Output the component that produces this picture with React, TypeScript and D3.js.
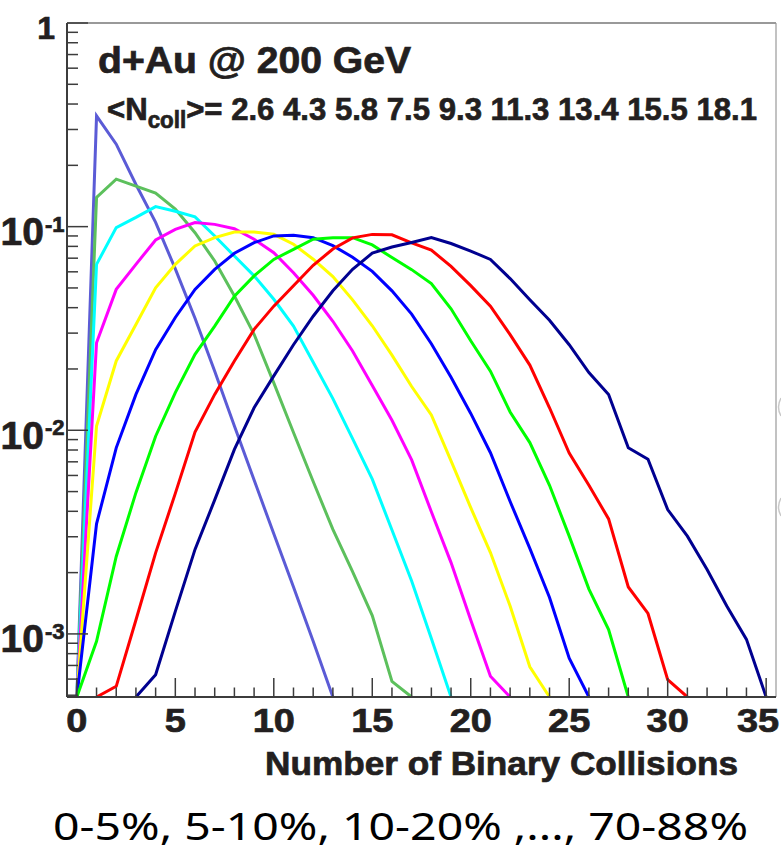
import React from 'react';
import * as d3 from 'd3';

const WIDTH = 781;
const HEIGHT = 851;

// Mean number of binary collisions per centrality class (peripheral -> central)
const ncollMeans = ['2.6', '4.3', '5.8', '7.5', '9.3', '11.3', '13.4', '15.5', '18.1'];

// Probability per number of binary collisions, index = Ncoll (0,1,2,...)
const ncoll26 = [0, 0.35, 0.254, 0.161, 0.105, 0.062, 0.0355, 0.0195, 0.0105, 0.0057, 0.0031, 0.0017, 0.00092, 0];
const ncoll43 = [0, 0.139, 0.171, 0.158, 0.146, 0.122, 0.0934, 0.0678, 0.0456, 0.0296, 0.0171, 0.00975, 0.0056, 0.00326, 0.00202, 0.00123, 0.000585, 0];
const ncoll58 = [0, 0.0653, 0.0989, 0.111, 0.1254, 0.119, 0.1116, 0.09, 0.0717, 0.0573, 0.044, 0.0325, 0.0216, 0.0143, 0.0091, 0.00575, 0.00324, 0.00182, 0.00095, 0];
const ncoll75 = [0, 0.0269, 0.0492, 0.0653, 0.086, 0.097, 0.1047, 0.1026, 0.0977, 0.0867, 0.0745, 0.0594, 0.046, 0.0343, 0.0245, 0.0166, 0.0112, 0.00715, 0.00398, 0.00224, 0.00117, 0.00062, 0];
const ncoll93 = [0, 0.0105, 0.0219, 0.0331, 0.0501, 0.0653, 0.0804, 0.0883, 0.094, 0.094, 0.0917, 0.082, 0.0692, 0.0569, 0.0437, 0.0326, 0.0234, 0.0164, 0.0119, 0.00708, 0.00417, 0.00251, 0.00137, 0.00069, 0];
const ncoll113 = [0, 0.00347, 0.0082, 0.015, 0.0249, 0.0358, 0.0492, 0.0617, 0.074, 0.0834, 0.09, 0.0906, 0.0883, 0.0807, 0.0708, 0.0603, 0.0484, 0.0372, 0.0266, 0.0182, 0.0121, 0.00776, 0.00447, 0.00263, 0.00151, 0.00076, 0];
const ncoll134 = [0, 0.00092, 0.0024, 0.00494, 0.00935, 0.0153, 0.0236, 0.0325, 0.0456, 0.0573, 0.069, 0.0774, 0.0867, 0.0883, 0.0883, 0.0813, 0.0705, 0.0615, 0.0525, 0.0395, 0.0275, 0.0195, 0.0123, 0.0087, 0.00537, 0.00302, 0.00166, 0.00105, 0];
const ncoll155 = [0, 0, 0.000553, 0.00117, 0.0025, 0.0049, 0.0098, 0.015, 0.0219, 0.0313, 0.0407, 0.0513, 0.0646, 0.0776, 0.0881, 0.0916, 0.0912, 0.0832, 0.0767, 0.0638, 0.0513, 0.0407, 0.0295, 0.0209, 0.0129, 0.00773, 0.00537, 0.00367, 0.0017, 0.00126, 0.000596, 0];
const ncoll181 = [0, 0, 0, 0, 0.00063, 0.00129, 0.0026, 0.00455, 0.00805, 0.0129, 0.0185, 0.0263, 0.0363, 0.0484, 0.0617, 0.0741, 0.0794, 0.0836, 0.0883, 0.0826, 0.0759, 0.069, 0.0556, 0.0437, 0.0347, 0.0263, 0.0192, 0.015, 0.0082, 0.0072, 0.00408, 0.00302, 0.00207, 0.00137, 0.00094, 0];

const seriesList = [ncoll26, ncoll43, ncoll58, ncoll75, ncoll93, ncoll113, ncoll134, ncoll155, ncoll181];
const seriesColors = ['#5b5bd6', '#5cc05c', '#00ffff', '#ff00ff', '#ffff00', '#0000ff', '#00ff00', '#ff0000', '#000090'];

const xMajorTicks = [0, 5, 10, 15, 20, 25, 30, 35];
const yMajorExponents = [-3, -2, -1];

const titleText = 'd+Au @ 200 GeV';
const xAxisTitle = 'Number of Binary Collisions';
const centralityText = '0-5%, 5-10%, 10-20% ,..., 70-88%';

const X_DOMAIN: [number, number] = [-0.5, 35.5];
const Y_DOMAIN: [number, number] = [4.9e-4, 1];

const plot = { left: 67, right: 776, top: 23, bottom: 697 };
const textColor = '#231f20';
const axisColor = '#3c3c3c';
const boldFont = '"Liberation Sans", Arial, Helvetica, sans-serif';
const heavy = { stroke: textColor, strokeWidth: 0.7, paintOrder: 'stroke' as const };

export default function App() {
  const x = d3.scaleLinear().domain(X_DOMAIN).range([plot.left, plot.right]);
  const y = d3.scaleLog().domain(Y_DOMAIN).range([plot.bottom, plot.top]);

  const xMinor = d3.range(Math.ceil(X_DOMAIN[0]), Math.floor(X_DOMAIN[1]) + 1).filter((v) => v % 5 !== 0);
  const yMinor: number[] = [];
  [1e-4, 1e-3, 1e-2, 1e-1].forEach((d) => {
    for (let k = 2; k <= 9; k++) {
      const v = d * k;
      if (v >= Y_DOMAIN[0] && v <= Y_DOMAIN[1]) yMinor.push(v);
    }
  });

  const line = d3
    .line<[number, number]>()
    .x((d) => x(d[0]))
    .y((d) => y(Math.max(d[1], Y_DOMAIN[0])));

  const paths = seriesList.map((vals) => {
    const first = vals.findIndex((v) => v > 0);
    let last = vals.length - 1;
    while (last > 0 && !(vals[last] > 0)) last--;
    const start = Math.max(0, first - 1);
    const end = Math.min(vals.length - 1, last + 1);
    const pts: [number, number][] = [];
    for (let i = start; i <= end; i++) pts.push([i, vals[i]]);
    return line(pts) || '';
  });

  return (
    <svg
      width={WIDTH}
      height={HEIGHT}
      viewBox={`0 0 ${WIDTH} ${HEIGHT}`}
      style={{ position: 'absolute', left: 0, top: 0, display: 'block', background: '#fff' }}
    >
      <defs>
        <clipPath id="plotClip">
          <rect x={plot.left} y={plot.top - 2} width={plot.right - plot.left} height={plot.bottom - plot.top + 2} />
        </clipPath>
      </defs>
      <rect x={0} y={0} width={WIDTH} height={HEIGHT} fill="#fff" />

      {/* curves */}
      <g clipPath="url(#plotClip)">
        {paths.map((d, i) => (
          <path key={i} d={d} fill="none" stroke={seriesColors[i]} strokeWidth={3} strokeLinejoin="miter" />
        ))}
      </g>

      {/* frame */}
      <line x1={plot.left} x2={plot.right} y1={plot.top} y2={plot.top} stroke="#777" strokeWidth={1.5} />
      <line x1={plot.right} x2={plot.right} y1={plot.top} y2={plot.bottom} stroke="#999" strokeWidth={1.2} />
      <line x1={plot.left} x2={plot.left} y1={plot.top} y2={plot.bottom} stroke={axisColor} strokeWidth={2} />
      <line x1={plot.left} x2={plot.right} y1={plot.bottom} y2={plot.bottom} stroke={axisColor} strokeWidth={2} />

      {/* faint grey marks outside the right edge */}
      <path d="M781,398 Q776,407 781,416" fill="none" stroke="#c8c8c8" strokeWidth={1.5} />
      <path d="M781,498 Q776,507 781,516" fill="none" stroke="#c8c8c8" strokeWidth={1.5} />

      {/* x ticks */}
      {xMajorTicks.map((t) => (
        <line key={'xM' + t} x1={x(t)} x2={x(t)} y1={plot.bottom} y2={plot.bottom - 19} stroke={axisColor} strokeWidth={1.5} />
      ))}
      {xMinor.map((t) => (
        <line key={'xm' + t} x1={x(t)} x2={x(t)} y1={plot.bottom} y2={plot.bottom - 9.5} stroke={axisColor} strokeWidth={1.5} />
      ))}

      {/* y ticks */}
      {[...yMajorExponents.map((e) => Math.pow(10, e)), 1].map((t) => (
        <line key={'yM' + t} x1={plot.left} x2={plot.left + 21} y1={y(t)} y2={y(t)} stroke={axisColor} strokeWidth={1.5} />
      ))}
      {yMinor.map((t) => (
        <line key={'ym' + t} x1={plot.left} x2={plot.left + 11} y1={y(t)} y2={y(t)} stroke={axisColor} strokeWidth={1.5} />
      ))}

      {/* x tick labels (the last one kept inside the picture) */}
      {xMajorTicks.map((t) => {
        const cx = Math.min(x(t), WIDTH - 23);
        return (
          <g key={'xl' + t} transform={`translate(${cx},731.5) scale(1.15,1)`}>
            <text textAnchor="middle" fontFamily={boldFont} fontWeight="bold" fontSize={33} fill={textColor} {...heavy}>
              {t}
            </text>
          </g>
        );
      })}

      {/* y tick labels */}
      <text x={55} y={38.5} textAnchor="end" fontFamily={boldFont} fontWeight="bold" fontSize={32} fill={textColor} {...heavy}>
        1
      </text>
      {yMajorExponents.map((e) => (
        <g key={'yl' + e}>
          <text x={44} y={y(Math.pow(10, e)) + 18.5} textAnchor="end" fontFamily={boldFont} fontWeight="bold" fontSize={39} fill={textColor} {...heavy}>
            10
          </text>
          <text x={45} y={y(Math.pow(10, e)) + 5} fontFamily={boldFont} fontWeight="bold" fontSize={22} fill={textColor} {...heavy}>
            {String(e)}
          </text>
        </g>
      ))}

      {/* title */}
      <text x={98} y={72.7} fontFamily={boldFont} fontWeight="bold" fontSize={36} fill={textColor} textLength={313} lengthAdjust="spacingAndGlyphs" {...heavy}>
        {titleText}
      </text>

      {/* Ncoll line */}
      <text x={107} y={120} fontFamily={boldFont} fontWeight="bold" fontSize={32} fill={textColor} textLength={650} lengthAdjust="spacingAndGlyphs" {...heavy}>
        {'<N'}
        <tspan fontSize={23} dy={8}>coll</tspan>
        <tspan dy={-8}>{'>= ' + ncollMeans.join(' ')}</tspan>
      </text>

      {/* x axis title */}
      <text x={265} y={775} fontFamily={boldFont} fontWeight="bold" fontSize={33} fill={textColor} textLength={473} lengthAdjust="spacingAndGlyphs" {...heavy}>
        {xAxisTitle}
      </text>

      {/* centrality classes */}
      <text x={53} y={840} fontFamily='"Noto Sans", "Open Sans", sans-serif' fontSize={39} fill="#000" textLength={695} lengthAdjust="spacingAndGlyphs">
        {centralityText}
      </text>
    </svg>
  );
}
